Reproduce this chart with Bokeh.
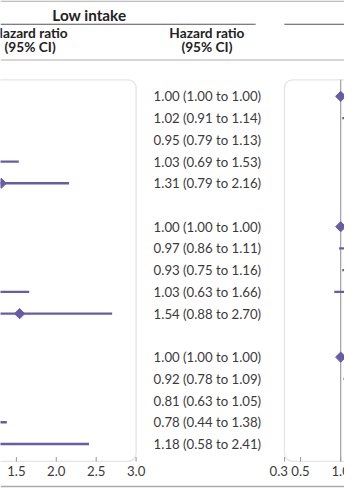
import math
from bokeh.plotting import figure
from bokeh.models import Range1d, BoxAnnotation
from bokeh.core.properties import value
from bokeh.embed import file_html
from bokeh.resources import INLINE

# ---------------- data ----------------
ROWS = [0, 1, 2, 3, 4, 6, 7, 8, 9, 10, 12, 13, 14, 15, 16]

LOW_HR = [1.00, 1.02, 0.95, 1.03, 1.31, 1.00, 0.97, 0.93, 1.03, 1.54, 1.00, 0.92, 0.81, 0.78, 1.18]
LOW_LO = [1.00, 0.91, 0.79, 0.69, 0.79, 1.00, 0.86, 0.75, 0.63, 0.88, 1.00, 0.78, 0.63, 0.44, 0.58]
LOW_HI = [1.00, 1.14, 1.13, 1.53, 2.16, 1.00, 1.11, 1.16, 1.66, 2.70, 1.00, 1.09, 1.05, 1.38, 2.41]

# second panel (mostly cut off in the picture: only lower ends near 1.0 are visible)
HIGH_HR = [1.00, 1.15, 1.30, 1.45, 1.60, 1.00, 1.12, 1.20, 1.28, 1.55, 1.00, 1.18, 1.30, 1.40, 1.70]
HIGH_LO = [1.00, 1.02, 1.08, 1.10, 1.12, 1.00, 0.98, 1.02, 0.92, 1.08, 1.00, 1.035, 1.10, 1.12, 1.15]
HIGH_HI = [1.00, 1.30, 1.56, 1.90, 2.30, 1.00, 1.28, 1.41, 1.78, 2.22, 1.00, 1.35, 1.54, 1.75, 2.52]

TICKS = [0.3, 0.5, 1.0, 1.5, 2.0, 2.5, 3.0]
TICK_LABELS = ["0.3", "0.5", "1.0", "1.5", "2.0", "2.5", "3.0"]

GROUP_TITLE = "Low intake"
COL_HEAD = ["Hazard ratio", "(95% CI)"]

# ---------------- styling ----------------
W, H = 344, 488
S = W / 360.0
PURPLE = "#6a5ba8"
TXT = "#3a3a3a"
FONT = "Lato"

def fs(px):
    return f"{px * S:.1f}px"

LEFT_RANGE = (1.3006, 5.612)
RIGHT_RANGE = (-3.238, 1.0476)

p = figure(width=W, height=H, output_backend="svg", toolbar_location=None,
           x_range=Range1d(*LEFT_RANGE), y_range=Range1d(18.048, -4.412),
           min_border=0, outline_line_color=None, background_fill_color="white")
p.extra_x_ranges = {"right": Range1d(*RIGHT_RANGE), "px": Range1d(0, 360)}
p.extra_y_ranges = {"py": Range1d(504, 0)}
p.xaxis.visible = False
p.yaxis.visible = False
p.grid.visible = False

# header lines (layout)
p.segment(x0=[0, 0, 297, 0, 0], x1=[360, 267, 360, 360, 360],
          y0=[0.6, 24.5, 24.5, 61.5, 502], y1=[0.6, 24.5, 24.5, 61.5, 502],
          line_color=["#aaaaaa", "#555555", "#555555", "#c8c8c8", "#aaaaaa"],
          line_width=[1.2, 1.1, 1.1, 1.6, 1.6],
          x_range_name="px", y_range_name="py")

# headers
p.text(x=[93], y=[15], text=[GROUP_TITLE], text_align="center", text_baseline="middle",
       text_font=value(FONT), text_font_style="bold", text_font_size=fs(16),
       text_color="#222222", x_range_name="px", y_range_name="py")
p.text(x=[31, 31, 216, 216], y=[33, 48, 33, 48], text=COL_HEAD + COL_HEAD,
       text_align="center", text_baseline="middle",
       text_font=value(FONT), text_font_style="bold", text_font_size=fs(14.3),
       text_color="#222222", x_range_name="px", y_range_name="py")

# panel frames
BOX_TOP, BOX_BOT = -0.76, 16.8
for rn in ("default", "right"):
    box = BoxAnnotation(left=TICKS[0], right=TICKS[-1], top=BOX_TOP, bottom=BOX_BOT,
                        fill_color=None, line_color="#a8a8a8", line_width=1.3,
                        border_radius=8, x_range_name=rn)
    p.add_layout(box)

# reference line at 1.0 in right panel
p.segment(x0=[1.0], x1=[1.0], y0=[BOX_TOP], y1=[BOX_BOT], line_color="#a0a0a0",
          line_width=1.2, x_range_name="right")

# left panel CIs and points
p.segment(x0=LOW_LO, x1=LOW_HI, y0=ROWS, y1=ROWS, line_color=PURPLE, line_width=2.3)
p.scatter(x=LOW_HR, y=ROWS, marker="square", angle=math.pi / 4, size=7.2,
          fill_color=PURPLE, line_color=PURPLE)

# right panel
p.segment(x0=HIGH_LO, x1=HIGH_HI, y0=ROWS, y1=ROWS, line_color=PURPLE, line_width=2.3,
          x_range_name="right")
p.scatter(x=HIGH_HR, y=ROWS, marker="square", angle=math.pi / 4, size=7.2,
          fill_color=PURPLE, line_color=PURPLE, x_range_name="right")

# hazard ratio text column
labels = [f"{h:.2f} ({l:.2f} to {u:.2f})" for h, l, u in zip(LOW_HR, LOW_LO, LOW_HI)]
p.text(x=[216.5] * len(ROWS), y=ROWS, text=labels, text_align="center",
       text_baseline="middle", text_font=value(FONT), text_font_size=fs(13.8),
       text_color=TXT, x_range_name="px")

# tick marks and labels (both panels)
for rn, (lo, hi) in (("default", LEFT_RANGE), ("right", RIGHT_RANGE)):
    p.segment(x0=TICKS, x1=TICKS, y0=[BOX_BOT] * len(TICKS), y1=[BOX_BOT - 0.2] * len(TICKS),
              line_color="#a0a0a0", line_width=1.1, x_range_name=rn)
    vis = [(t, lab) for t, lab in zip(TICKS, TICK_LABELS) if lo <= t <= hi]
    if vis:
        tx = [t for t, _ in vis]
        tl = [lab for _, lab in vis]
        offs = [-6 * S if t == TICKS[0] else 0 for t in tx]
        p.text(x=tx, y=[486] * len(tx), text=tl, x_offset=offs, text_align="center",
               text_baseline="middle", text_font=value(FONT), text_font_size=fs(13.8),
               text_color=TXT, x_range_name=rn, y_range_name="py")

open("out.html", "w").write(file_html(p, INLINE))
